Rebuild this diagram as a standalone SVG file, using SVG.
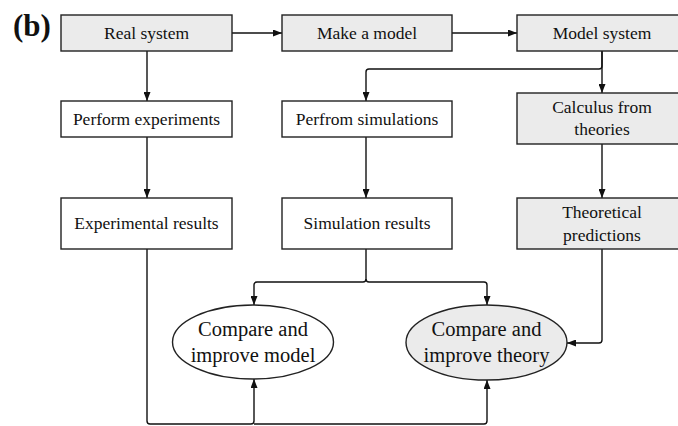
<svg xmlns="http://www.w3.org/2000/svg" width="678" height="426" viewBox="0 0 678 426">
<defs>
<style>
.box{stroke:#222;stroke-width:1.4;}
.g{fill:#ebebeb;}
.w{fill:#fff;}
.t{font-family:"Liberation Serif","Times New Roman",serif;font-size:17.5px;fill:#111;text-anchor:middle;}
.te{font-family:"Liberation Serif","Times New Roman",serif;font-size:20.5px;fill:#111;text-anchor:middle;}
.c{fill:none;stroke:#111;stroke-width:1.4;}
</style>
<marker id="ah" markerUnits="userSpaceOnUse" markerWidth="9" markerHeight="7" viewBox="0 0 9 7" refX="9" refY="3.5" orient="auto">
<path d="M0,0 L9,3.5 L0,7 z" fill="#111"/>
</marker>
</defs>
<rect width="678" height="426" fill="#fff"/>
<text x="13" y="36" font-family="Liberation Serif,'Times New Roman',serif" font-size="31" font-weight="bold" fill="#111">(b)</text>
<g id="connectors">
<path class="c" d="M232,33 H282" marker-end="url(#ah)"/>
<path class="c" d="M452,33 H517" marker-end="url(#ah)"/>
<path class="c" d="M147,51 V101" marker-end="url(#ah)"/>
<path class="c" d="M602,51 V93" marker-end="url(#ah)"/>
<path class="c" d="M602,51 V66 Q602,69 599,69 H369 Q366,69 366,72 V101" marker-end="url(#ah)"/>
<path class="c" d="M147,137 V198" marker-end="url(#ah)"/>
<path class="c" d="M366,137 V198" marker-end="url(#ah)"/>
<path class="c" d="M602,144 V198" marker-end="url(#ah)"/>
<path class="c" d="M366,249 V279 Q366,282 363,282 H257 Q254,282 254,285 V305" marker-end="url(#ah)"/>
<path class="c" d="M366,279 Q366,282 369,282 H484 Q487,282 487,285 V305" marker-end="url(#ah)"/>
<path class="c" d="M602,249 V340 Q602,343 599,343 H567" marker-end="url(#ah)"/>
<path class="c" d="M147,249 V421 Q147,424 150,424 H251 Q254,424 254,421 V379" marker-end="url(#ah)"/>
<path class="c" d="M254,424 H484 Q487,424 487,421 V380" marker-end="url(#ah)"/>
</g>
<g id="real-system"><rect class="box g" x="61" y="15" width="171" height="36"/><text class="t" x="146.5" y="39">Real system</text></g>
<g id="make-model"><rect class="box g" x="282" y="15" width="170" height="36"/><text class="t" x="367" y="39">Make a model</text></g>
<g id="model-system"><rect class="box g" x="517" y="15" width="171" height="36"/><text class="t" x="602" y="39">Model system</text></g>
<g id="perform-experiments"><rect class="box w" x="61" y="101" width="171" height="36"/><text class="t" x="146.5" y="125">Perform experiments</text></g>
<g id="perform-simulations"><rect class="box w" x="282" y="101" width="170" height="36"/><text class="t" x="367" y="125">Perfrom simulations</text></g>
<g id="calculus"><rect class="box g" x="517" y="93" width="171" height="51"/><text class="t" x="602" y="113">Calculus from</text><text class="t" x="602" y="135">theories</text></g>
<g id="experimental-results"><rect class="box w" x="61" y="198" width="171" height="51"/><text class="t" x="146.5" y="229">Experimental results</text></g>
<g id="simulation-results"><rect class="box w" x="282" y="198" width="170" height="51"/><text class="t" x="367" y="229">Simulation results</text></g>
<g id="theoretical-predictions"><rect class="box g" x="517" y="198" width="171" height="51"/><text class="t" x="602" y="218">Theoretical</text><text class="t" x="602" y="241">predictions</text></g>
<g id="compare-model"><ellipse class="box w" cx="253" cy="342" rx="80.5" ry="37"/><text class="te" x="253" y="336">Compare and</text><text class="te" x="253" y="362">improve model</text></g>
<g id="compare-theory"><ellipse class="box g" cx="486.5" cy="342.5" rx="80.5" ry="37.5"/><text class="te" x="486.5" y="336">Compare and</text><text class="te" x="486.5" y="362">improve theory</text></g>
</svg>
